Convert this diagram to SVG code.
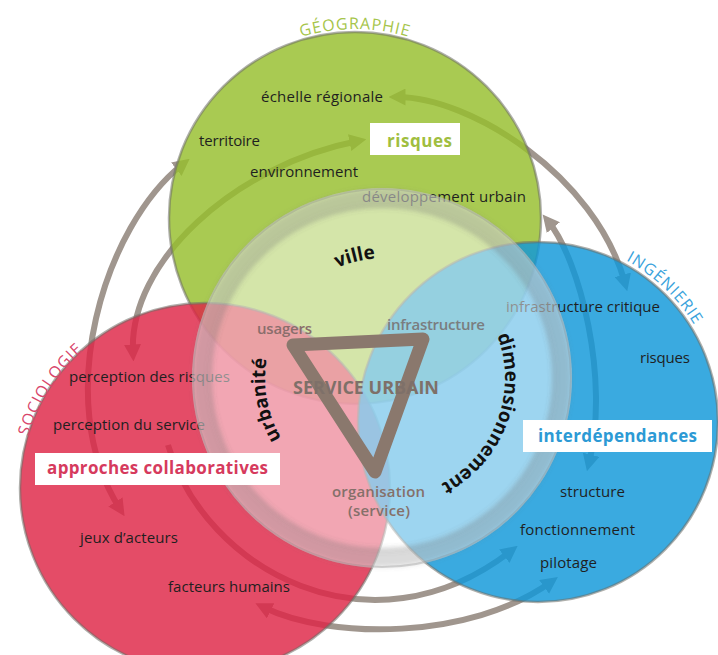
<svg xmlns="http://www.w3.org/2000/svg" width="718" height="655" viewBox="0 0 718 655">
<defs>
<style>
.lbl{font-family:"Open Sans","Noto Sans","Liberation Sans",sans-serif;font-size:15px;fill:#1f1f1f}
.inner{font-family:"Open Sans","Noto Sans","Liberation Sans",sans-serif;font-size:15px;font-weight:600}
.big{font-family:"Open Sans","Noto Sans","Liberation Sans",sans-serif;font-size:18px;font-weight:700}
.key{font-family:"Open Sans","Noto Sans","Liberation Sans",sans-serif;font-size:17px;font-weight:700}
.title{font-family:"Open Sans","Noto Sans","Liberation Sans",sans-serif;font-size:16px}
.curve{font-family:"Open Sans","Noto Sans","Liberation Sans",sans-serif;font-size:19px;font-weight:700;fill:#111}
.arc{fill:none;stroke:#a0968e;stroke-width:6}
.disc{stroke:#6e6e66;stroke-opacity:.55;stroke-width:2.5}
.box{fill:#fff}
</style>
<marker id="ah" viewBox="0 0 10 10" refX="5" refY="5" markerWidth="17" markerHeight="17" markerUnits="userSpaceOnUse" orient="auto-start-reverse">
<path d="M0,0 L10,5 L0,10 z" fill="#a0968e"/>
</marker>
<filter id="blur" x="-20%" y="-20%" width="140%" height="140%"><feGaussianBlur stdDeviation="2.5"/></filter>
<path id="pGeo" d="M221.4,84.4 A189,189 0 0 1 488.6,84.4"/>
<path id="pSoc" d="M23.8,456.1 A184,184 0 0 1 113,328.7"/>
<path id="pIng" d="M569.9,240.8 A184,184 0 0 1 715.7,374.4"/>
<path id="pVille" d="M307.9,286.1 A120,120 0 0 1 426,265.2"/>
<path id="pUrb" d="M307.9,469.9 A120,120 0 0 1 281.1,318"/>
<path id="pDim" d="M488.9,318 A120,120 0 0 1 405.8,496.2"/>
</defs>
<rect width="718" height="655" fill="#fff"/>

<g id="connectors">
<path class="arc" d="M120,509 C50,400 105,225 183,164" marker-start="url(#ah)" marker-end="url(#ah)"/>
<path class="arc" d="M133,353 C128,262 235,165 358,141" marker-start="url(#ah)" marker-end="url(#ah)"/>
<path class="arc" d="M397,97 C470,97 595,175 625,283" marker-start="url(#ah)" marker-end="url(#ah)"/>
<path class="arc" d="M548,221 C580,260 610,380 589,463" marker-start="url(#ah)" marker-end="url(#ah)"/>
<path class="arc" d="M168,445 C205,570 370,660 511,551" marker-end="url(#ah)"/>
<path class="arc" d="M263,607 C330,640 470,640 551,582" marker-start="url(#ah)" marker-end="url(#ah)"/>
</g>

<g id="node-geographie">
<circle cx="355" cy="218" r="186" fill="#96be2c" fill-opacity=".82" class="disc"/>
<text class="title" fill="#a6c54b" letter-spacing="1"><textPath href="#pGeo" startOffset="50%" text-anchor="middle">GÉOGRAPHIE</textPath></text>
<text class="lbl" x="261" y="102" textLength="122">échelle régionale</text>
<text class="lbl" x="199" y="146" textLength="61">territoire</text>
<text class="lbl" x="250" y="177" textLength="108">environnement</text>
<text class="lbl" x="362" y="202" textLength="164">développement urbain</text>
</g>

<g id="node-sociologie">
<circle cx="205" cy="488" r="185" fill="#de2545" fill-opacity=".82" class="disc"/>
<text class="title" fill="#d8456a" letter-spacing="1"><textPath href="#pSoc" startOffset="45%" text-anchor="middle">SOCIOLOGIE</textPath></text>
<text class="lbl" x="69" y="382" textLength="161">perception des risques</text>
<text class="lbl" x="53" y="430" textLength="152">perception du service</text>
<text class="lbl" x="80" y="543" textLength="98">jeux d’acteurs</text>
<text class="lbl" x="168" y="592" textLength="122">facteurs humains</text>
</g>

<g id="node-ingenierie">
<circle cx="538" cy="422" r="180" fill="#0f97d9" fill-opacity=".82" class="disc"/>
<text class="title" fill="#3aa3dc" letter-spacing="1"><textPath href="#pIng" startOffset="51.5%" text-anchor="middle">INGÉNIERIE</textPath></text>
<text class="lbl" x="506" y="312" textLength="154" fill="#18222c">infrastructure critique</text>
<text class="lbl" x="640" y="363" textLength="50">risques</text>
<text class="lbl" x="560" y="497" textLength="65">structure</text>
<text class="lbl" x="520" y="535" textLength="115">fonctionnement</text>
<text class="lbl" x="540" y="568" textLength="57">pilotage</text>
</g>

<g id="node-service">
<circle cx="382" cy="378" r="190" fill="#fff" fill-opacity=".5"/>
<circle cx="382" cy="378" r="180" fill="none" stroke="#6f6f6a" stroke-width="18" stroke-opacity=".25" filter="url(#blur)"/>
<circle cx="382" cy="378" r="172" fill="none" stroke="#6f6f6a" stroke-width="4" stroke-opacity=".15" filter="url(#blur)"/>
<circle cx="382" cy="378" r="189" fill="none" stroke="#808080" stroke-width="2" stroke-opacity=".3"/>
<polygon points="293,345 423,339 375,472" fill="none" stroke="#8a786d" stroke-width="13" stroke-linejoin="round"/>
<text class="inner" x="257" y="334" textLength="55" fill="#8a6e6c">usagers</text>
<text class="inner" x="387" y="330" textLength="98" fill="#7a7d7f">infrastructure</text>
<text class="big" x="293" y="394" textLength="146" fill="#7e7069">SERVICE URBAIN</text>
<text class="inner" x="332" y="497" textLength="93" fill="#85706a">organisation</text>
<text class="inner" x="348" y="516" textLength="62" fill="#85706a">(service)</text>
<text class="curve"><textPath href="#pVille" startOffset="43.3%" text-anchor="middle">ville</textPath></text>
<text class="curve"><textPath href="#pUrb" startOffset="49.4%" text-anchor="middle">urbanité</textPath></text>
<text class="curve"><textPath href="#pDim" startOffset="46.1%" text-anchor="middle">dimensionnement</textPath></text>
</g>

<g id="key-risques">
<rect class="box" x="370" y="123" width="90" height="32"/>
<text class="key" x="387" y="147" textLength="65" fill="#a0be40">risques</text>
</g>
<g id="key-approches">
<rect class="box" x="35" y="453" width="245" height="32"/>
<text class="key" x="47" y="474" textLength="221" fill="#d63a5d">approches collaboratives</text>
</g>
<g id="key-interdependances">
<rect class="box" x="523" y="420" width="189" height="32"/>
<text class="key" x="538" y="442" textLength="159" fill="#2c9ad5">interdépendances</text>
</g>
</svg>
